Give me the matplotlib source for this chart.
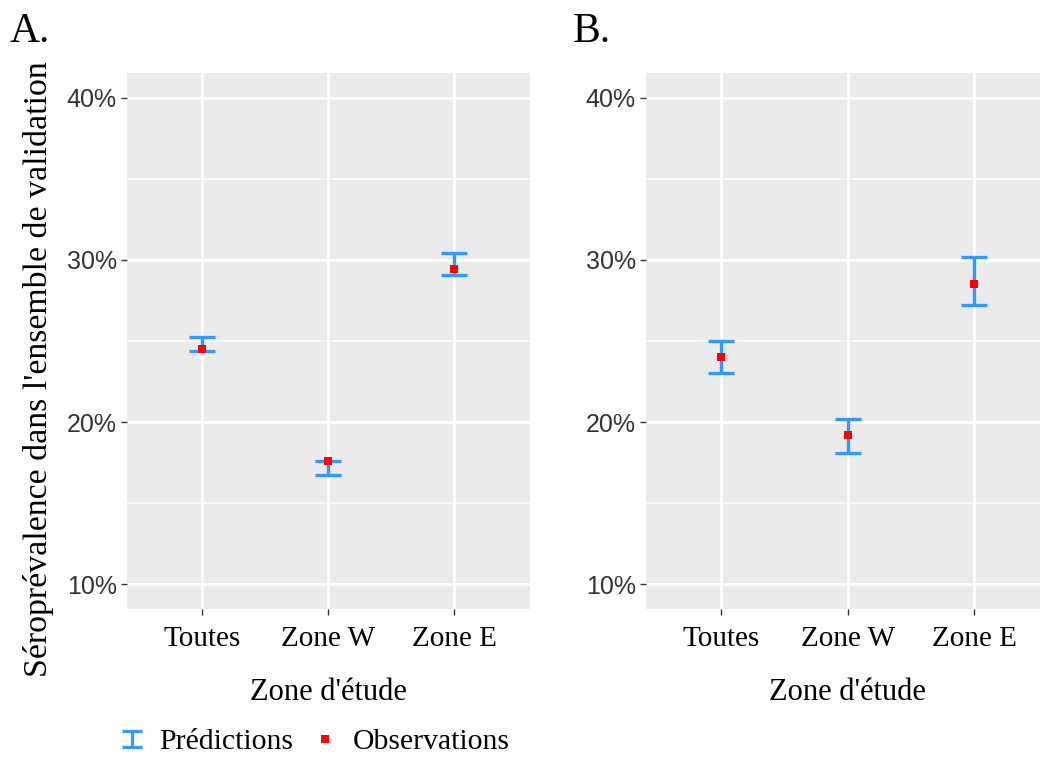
import matplotlib
matplotlib.use("Agg")
import matplotlib.pyplot as plt
from matplotlib.ticker import FixedLocator, FuncFormatter
from matplotlib.lines import Line2D
from matplotlib.path import Path
import numpy as np

categories = ["Toutes", "Zone W", "Zone E"]

# Panel A (values in %)
a_pred_low = [24.38, 16.70, 29.07]
a_pred_high = [25.25, 17.60, 30.43]
a_obs = [24.50, 17.60, 29.44]

# Panel B (values in %)
b_pred_low = [23.00, 18.09, 27.22]
b_pred_high = [25.00, 20.19, 30.20]
b_obs = [24.00, 19.20, 28.52]

y_ticks = [10, 20, 30, 40]
y_minor = [15, 25, 35]
panel_labels = ["A.", "B."]
legend_labels = ["Prédictions", "Observations"]

SERIF = ["Liberation Serif", "DejaVu Serif"]
SANS = ["Liberation Sans", "DejaVu Sans"]
BLUE = "#3399FF"
RED = "#FF0000"
BG = "#EBEBEB"

fig = plt.figure(figsize=(10.4, 7.6), dpi=100)
fig.patch.set_facecolor("white")

W, H = 1040, 760
def ax_rect(l, r, t, b):
    return [l / W, 1 - b / H, (r - l) / W, (b - t) / H]

axA = fig.add_axes(ax_rect(126.5, 529.5, 73, 609))
axB = fig.add_axes(ax_rect(645.5, 1050, 73, 609))

label_x = [10, 573]
for i, (ax, lo, hi, obs, lab) in enumerate([(axA, a_pred_low, a_pred_high, a_obs, panel_labels[0]),
                                            (axB, b_pred_low, b_pred_high, b_obs, panel_labels[1])]):
    x = np.arange(len(categories))
    ax.set_facecolor(BG)
    for s in ax.spines.values():
        s.set_visible(False)
    ax.set_xlim(-0.6, len(categories) - 0.4)
    ax.set_ylim(8.46, 41.54)
    # grid
    for yv in y_minor:
        ax.axhline(yv, color="white", lw=1.1, zorder=0.5)
    for yv in y_ticks:
        ax.axhline(yv, color="white", lw=2.0, zorder=0.6)
    for xv in x:
        ax.axvline(xv, color="white", lw=2.0, zorder=0.6)
    lo_a = np.array(lo)
    hi_a = np.array(hi)
    mid = (lo_a + hi_a) / 2
    ax.errorbar(x, mid, yerr=[mid - lo_a, hi_a - mid], fmt="none",
                ecolor=BLUE, elinewidth=2.4, capsize=9.5, capthick=2.4,
                zorder=2)
    ax.plot(x, obs, linestyle="none", marker="s", markersize=6,
            color=RED, markeredgewidth=0, zorder=3)
    ax.yaxis.set_major_locator(FixedLocator(y_ticks))
    ax.yaxis.set_major_formatter(FuncFormatter(lambda v, p: f"{int(v)}%"))
    ax.set_xticks(x)
    ax.set_xticklabels(categories, fontfamily=SERIF, fontsize=21, color="black")
    for t in ax.get_yticklabels():
        t.set_fontfamily(SANS)
        t.set_fontsize(18)
        t.set_color("#333333")
    ax.tick_params(axis="both", length=4, width=1, color="#333333")
    ax.tick_params(axis="x", pad=8)
    ax.tick_params(axis="y", pad=3)
    ax.set_xlabel("Zone d'étude", fontfamily=SERIF, fontsize=22, labelpad=19)
    fig.text(label_x[i] / W, 1 - 42 / H, lab, fontfamily=SERIF, fontsize=30,
             ha="left", va="baseline")

axA.set_ylabel("Séroprévalence dans l'ensemble de validation",
               fontfamily=SERIF, fontsize=24.4)
axA.yaxis.set_label_coords((54.5 - 126.5) / 403.0, 0.448)

# legend glyph for error bar: an "I" shape
ibar = Path([(-0.5, 0.375), (0.5, 0.375), (0, 0.375), (0, -0.375),
             (-0.5, -0.375), (0.5, -0.375)],
            [Path.MOVETO, Path.LINETO, Path.MOVETO, Path.LINETO,
             Path.MOVETO, Path.LINETO])
h_pred = Line2D([], [], linestyle="none", marker=ibar, markersize=14.5,
                markerfacecolor="none", markeredgecolor=BLUE,
                markeredgewidth=2.3)
h_obs = Line2D([], [], linestyle="none", marker="s", markersize=6,
               color=RED, markeredgewidth=0)

fig.legend([h_pred, h_obs], legend_labels, loc="center",
           bbox_to_anchor=(315 / W, 1 - 742 / H), ncol=2, frameon=False,
           prop={"family": SERIF, "size": 21.4}, handlelength=0.75,
           handletextpad=0.55, columnspacing=0.7, numpoints=1)

fig.savefig("out.png", dpi=100, facecolor="white")
